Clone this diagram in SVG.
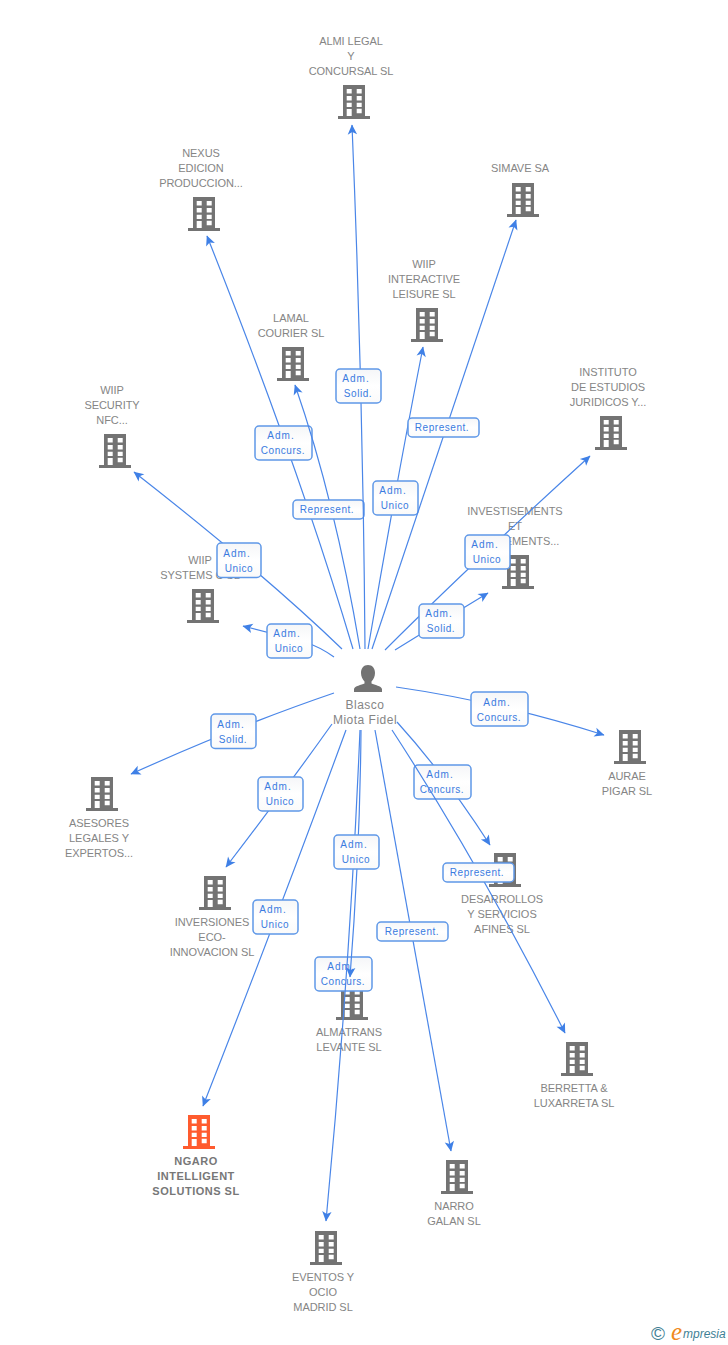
<svg xmlns="http://www.w3.org/2000/svg" width="728" height="1345" viewBox="0 0 728 1345">
<style>
text{font-family:"Liberation Sans",Arial,sans-serif}
.n{font-size:11px;fill:#858585;text-anchor:middle;letter-spacing:-.05px}
.b{font-weight:bold;fill:#777;letter-spacing:.5px}
.p{font-size:12px;letter-spacing:.5px}
.l{font-size:10px;fill:#3a7be0;text-anchor:middle;letter-spacing:.55px}
.a{letter-spacing:1px}
.e{fill:none;stroke:#4a86e8;stroke-width:1.2;marker-end:url(#arrow)}
.r{fill:url(#boxfill);stroke:#5f98e8;stroke-width:1.5}
</style>
<defs>
<linearGradient id="boxfill" x1="0" y1="0" x2="0" y2="1"><stop offset="0" stop-color="#f5f6f8"/><stop offset=".5" stop-color="#fff"/><stop offset="1" stop-color="#fafafa"/></linearGradient>
<marker id="arrow" markerUnits="userSpaceOnUse" markerWidth="11" markerHeight="11" viewBox="0 0 11 11" refX="10" refY="5.5" orient="auto"><path d="M10.5,5.5 L0.5,0.8 L3,5.5 L0.5,10.2 Z" fill="#3f80e6"/></marker>
<g id="bld"><path fill-rule="evenodd" d="M5,0H27V31H32V34H0V31H5ZM8.7,4V8.5H13.7V4ZM18.7,4V8.5H23.7V4ZM8.7,11V15.5H13.7V11ZM18.7,11V15.5H23.7V11ZM8.7,17.7V22H13.7V17.7ZM18.7,17.7V22H23.7V17.7ZM18.7,23.7V28.3H23.7V23.7ZM8.7,24V31H13.7V24Z"/></g>
</defs>
<g id="nodes" fill="#737373">
<g id="n-almi"><use href="#bld" x="338" y="85"/><text class="n" x="351" y="45">ALMI LEGAL</text><text class="n" x="351" y="60">Y</text><text class="n" x="351" y="75">CONCURSAL SL</text></g>
<g id="n-nexus"><use href="#bld" x="188" y="197"/><text class="n" x="201" y="157">NEXUS</text><text class="n" x="201" y="172">EDICION</text><text class="n" x="201" y="187">PRODUCCION...</text></g>
<g id="n-simave"><use href="#bld" x="507" y="183"/><text class="n" x="520" y="172">SIMAVE SA</text></g>
<g id="n-wiip-int"><use href="#bld" x="411" y="308"/><text class="n" x="424" y="268">WIIP</text><text class="n" x="424" y="283">INTERACTIVE</text><text class="n" x="424" y="298">LEISURE SL</text></g>
<g id="n-lamal"><use href="#bld" x="277" y="347"/><text class="n" x="291" y="322">LAMAL</text><text class="n" x="291" y="337">COURIER SL</text></g>
<g id="n-instituto"><use href="#bld" x="595" y="416"/><text class="n" x="608" y="376">INSTITUTO</text><text class="n" x="608" y="391">DE ESTUDIOS</text><text class="n" x="608" y="406">JURIDICOS Y...</text></g>
<g id="n-wiip-sec"><use href="#bld" x="99" y="434"/><text class="n" x="112" y="394">WIIP</text><text class="n" x="112" y="409">SECURITY</text><text class="n" x="112" y="424">NFC...</text></g>
<g id="n-wiip-sys"><use href="#bld" x="187" y="589"/><text class="n" x="200" y="564">WIIP</text><text class="n" x="200" y="579">SYSTEMS C SL</text></g>
<g id="n-invest"><use href="#bld" x="502" y="555"/><text class="n" x="515" y="515">INVESTISEMENTS</text><text class="n" x="515" y="530">ET</text><text class="n" x="515" y="545">EQUIPEMENTS...</text></g>
<g id="n-aurae"><use href="#bld" x="614" y="730"/><text class="n" x="627" y="780">AURAE</text><text class="n" x="627" y="795">PIGAR SL</text></g>
<g id="n-asesores"><use href="#bld" x="86" y="777"/><text class="n" x="99" y="827">ASESORES</text><text class="n" x="99" y="842">LEGALES Y</text><text class="n" x="99" y="857">EXPERTOS...</text></g>
<g id="n-inversiones"><use href="#bld" x="199" y="876"/><text class="n" x="212" y="926">INVERSIONES</text><text class="n" x="212" y="941">ECO-</text><text class="n" x="212" y="956">INNOVACION SL</text></g>
<g id="n-desarrollos"><use href="#bld" x="489" y="853"/><text class="n" x="502" y="903">DESARROLLOS</text><text class="n" x="502" y="918">Y SERVICIOS</text><text class="n" x="502" y="933">AFINES SL</text></g>
<g id="n-almatrans"><use href="#bld" x="336" y="986"/><text class="n" x="349" y="1036">ALMATRANS</text><text class="n" x="349" y="1051">LEVANTE SL</text></g>
<g id="n-berretta"><use href="#bld" x="561" y="1042"/><text class="n" x="574" y="1092">BERRETTA &amp;</text><text class="n" x="574" y="1107">LUXARRETA SL</text></g>
<g id="n-ngaro"><use href="#bld" x="183" y="1115" fill="#ff5b2e"/><text class="n b" x="196" y="1165">NGARO</text><text class="n b" x="196" y="1180">INTELLIGENT</text><text class="n b" x="196" y="1195">SOLUTIONS SL</text></g>
<g id="n-narro"><use href="#bld" x="441" y="1160"/><text class="n" x="454" y="1210">NARRO</text><text class="n" x="454" y="1225">GALAN SL</text></g>
<g id="n-eventos"><use href="#bld" x="310" y="1231"/><text class="n" x="323" y="1281">EVENTOS Y</text><text class="n" x="323" y="1296">OCIO</text><text class="n" x="323" y="1311">MADRID SL</text></g>
<g id="n-blasco"><path d="M368,665c4.500,0 7,3.500 7,8c0,3.500 -1.500,6.500 -3.500,8.500v2c3,1.500 10,2.500 10.500,5.500v3h-28v-3c.5,-3 7.500,-4 10.500,-5.500v-2c-2,-2 -3.500,-5 -3.500,-8.500c0,-4.500 2.500,-8 7,-8Z"/><text class="n p" x="365" y="709">Blasco</text><text class="n p" x="365" y="724">Miota Fidel</text></g>
</g>
<g id="connectors">
<path class="e" d="M342,649Q262,572 134,472"/><rect class="r" x="217" y="543" width="44" height="34.500" rx="4"/><text class="l a" x="237" y="557">Adm.</text><text class="l" x="239" y="572">Unico</text>
<path class="e" d="M334,657Q320,647 305,642 L243,626"/><rect class="r" x="267" y="624" width="45" height="34" rx="4"/><text class="l a" x="287" y="637">Adm.</text><text class="l" x="289" y="652">Unico</text>
<path class="e" d="M353,649Q300,470 207,236"/><rect class="r" x="255" y="426" width="57" height="34" rx="4"/><text class="l a" x="281" y="439">Adm.</text><text class="l" x="283" y="454">Concurs.</text>
<path class="e" d="M360,649Q335,500 295,385"/><rect class="r" x="293" y="500" width="71" height="19" rx="4"/><text class="l" x="327" y="513">Represent.</text>
<path class="e" d="M365,649Q363,390 352,125"/><rect class="r" x="336" y="369" width="45" height="34" rx="4"/><text class="l a" x="356" y="382">Adm.</text><text class="l" x="358" y="397">Solid.</text>
<path class="e" d="M368,649Q395,490 423,347"/><rect class="r" x="373" y="481" width="45" height="34" rx="4"/><text class="l a" x="393" y="494">Adm.</text><text class="l" x="395" y="509">Unico</text>
<path class="e" d="M372,649Q445,430 516,220"/><rect class="r" x="408" y="418" width="71" height="19" rx="4"/><text class="l" x="442" y="431">Represent.</text>
<path class="e" d="M385,650Q470,565 590,456"/><rect class="r" x="465" y="535" width="45" height="34" rx="4"/><text class="l a" x="485" y="548">Adm.</text><text class="l" x="487" y="563">Unico</text>
<path class="e" d="M395,650Q440,622 488,593"/><rect class="r" x="419" y="604" width="45" height="34" rx="4"/><text class="l a" x="439" y="617">Adm.</text><text class="l" x="441" y="632">Solid.</text>
<path class="e" d="M396,687Q500,702 604,735"/><rect class="r" x="471" y="692" width="57" height="34" rx="4"/><text class="l a" x="497" y="706">Adm.</text><text class="l" x="499" y="721">Concurs.</text>
<path class="e" d="M334,693Q240,725 131,774"/><rect class="r" x="211" y="714" width="45" height="34.500" rx="4"/><text class="l a" x="231" y="728">Adm.</text><text class="l" x="233" y="743">Solid.</text>
<path class="e" d="M332,724Q285,790 226,867"/><rect class="r" x="258" y="777" width="45" height="34" rx="4"/><text class="l a" x="278" y="790">Adm.</text><text class="l" x="280" y="805">Unico</text>
<path class="e" d="M397,722Q445,775 490,845"/><rect class="r" x="414" y="765" width="57" height="34" rx="4"/><text class="l a" x="440" y="778">Adm.</text><text class="l" x="442" y="793">Concurs.</text>
<path class="e" d="M392,730Q480,865 565,1033"/><rect class="r" x="443" y="863" width="71" height="19" rx="4"/><text class="l" x="477" y="876">Represent.</text>
<path class="e" d="M346,730Q280,910 203,1106"/><rect class="r" x="253" y="900" width="45" height="34" rx="4"/><text class="l a" x="273" y="913">Adm.</text><text class="l" x="275" y="928">Unico</text>
<path class="e" d="M375,730Q412,930 451,1151"/><rect class="r" x="377" y="922" width="71" height="19" rx="4"/><text class="l" x="412" y="935">Represent.</text>
<rect class="r" x="315" y="957" width="57" height="34" rx="4"/><text class="l a" x="341" y="970">Adm.</text><text class="l" x="343" y="985">Concurs.</text>
<path class="e" d="M360,730Q350,970 326,1221"/>
<path class="e" d="M361,730Q360,850 350,977"/><rect class="r" x="334" y="835" width="45" height="34" rx="4"/><text class="l a" x="354" y="848">Adm.</text><text class="l" x="356" y="863">Unico</text>
</g>
<g id="logo"><text x="651" y="1340" font-size="19" fill="#3f7f95">©</text><text x="671" y="1340" font-size="25" font-style="italic" style="font-family:'Liberation Serif',serif" fill="#f08a1d">e</text><text x="683" y="1338" font-size="12" font-style="italic" style="font-family:'Liberation Sans',sans-serif" fill="#3f7f95">mpresia</text></g>
</svg>
